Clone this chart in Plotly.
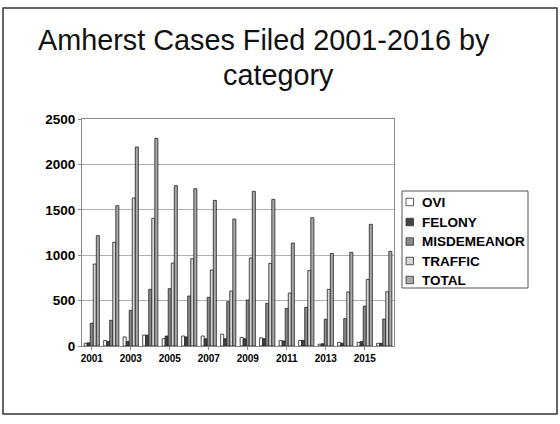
import plotly.graph_objects as go

years = [str(y) for y in range(2001, 2017)]
ovi = [30, 60, 100, 120, 80, 110, 110, 130, 95, 90, 60, 60, 20, 40, 40, 30]
felony = [35, 50, 50, 120, 110, 100, 80, 80, 80, 80, 55, 60, 25, 30, 50, 30]
misdemeanor = [250, 283, 393, 624, 631, 551, 536, 488, 507, 470, 415, 426, 294, 301, 440, 297]
traffic = [903, 1142, 1630, 1406, 914, 961, 837, 606, 969, 910, 583, 830, 624, 595, 734, 598]
total = [1215, 1545, 2192, 2287, 1766, 1732, 1604, 1398, 1703, 1615, 1134, 1413, 1020, 1031, 1340, 1043]

series_names = ["OVI", "FELONY", "MISDEMEANOR", "TRAFFIC", "TOTAL"]
series_values = [ovi, felony, misdemeanor, traffic, total]
series_colors = ["#ffffff", "#444444", "#8a8a8a", "#d6d6d6", "#a8a8a8"]
tick_years = [str(y) for y in range(2001, 2017, 2)]

# plot area in pixels (page coords)
PL, PR, PT, PB = 82, 394, 119, 346
PW, PH = PR - PL, PB - PT


def px(x):
    return (x - PL) / PW


def py(y):
    return (PB - y) / PH


fig = go.Figure()
for name, vals, col in zip(series_names, series_values, series_colors):
    fig.add_trace(go.Bar(
        x=years, y=vals, name=name, showlegend=False,
        marker=dict(color=col, line=dict(color="#222222", width=0.8)),
    ))

title_font = dict(size=28.8, family="Liberation Sans, Arial, sans-serif", color="#111111")
leg_font = dict(size=13.5, family="Liberation Sans, Arial, sans-serif", color="black")

annotations = [
    dict(text="Amherst Cases Filed 2001-2016 by", xref="paper", yref="paper",
         x=px(264), y=py(40), xanchor="center", yanchor="middle",
         showarrow=False, font=title_font),
    dict(text="category", xref="paper", yref="paper",
         x=px(278), y=py(75), xanchor="center", yanchor="middle",
         showarrow=False, font=title_font),
]
shapes = [
    dict(type="rect", xref="paper", yref="paper",
         x0=px(3), x1=px(557), y0=py(414), y1=py(8),
         line=dict(color="#333333", width=1.5)),
    dict(type="rect", xref="paper", yref="paper",
         x0=px(402), x1=px(528), y0=py(288), y1=py(191),
         line=dict(color="#555555", width=1), fillcolor="white", layer="below"),
]
leg_y = [202, 222, 241.5, 261, 280]
for name, col, yc in zip(series_names, series_colors, leg_y):
    shapes.append(dict(type="rect", xref="paper", yref="paper",
                       x0=px(406), x1=px(413.5), y0=py(yc + 3.75), y1=py(yc - 3.75),
                       line=dict(color="#333333", width=0.8), fillcolor=col))
    annotations.append(dict(text="<b>%s</b>" % name, xref="paper", yref="paper",
                            x=px(420), y=py(yc), xanchor="left", yanchor="middle",
                            showarrow=False, font=leg_font))

fig.update_layout(
    width=560, height=424,
    paper_bgcolor="white", plot_bgcolor="white",
    margin=dict(l=PL, r=560 - PR, t=PT, b=424 - PB, autoexpand=False),
    barmode="group", bargap=0.22, bargroupgap=0,
    font=dict(family="Liberation Sans, Arial, sans-serif", color="black"),
    showlegend=False,
    xaxis=dict(
        type="category", tickmode="array", tickvals=tick_years,
        ticktext=["<b>%s</b>" % t for t in tick_years],
        tickfont=dict(size=10), showline=True, linecolor="#888888",
        mirror=True, ticks="outside", ticklen=3, tickcolor="#888888",
    ),
    yaxis=dict(
        range=[0, 2500], tickvals=[0, 500, 1000, 1500, 2000, 2500],
        ticktext=["<b>%d</b>" % v for v in [0, 500, 1000, 1500, 2000, 2500]],
        tickfont=dict(size=13.5), showgrid=True, gridcolor="#b0b0b0",
        showline=True, linecolor="#888888", mirror=True,
        ticks="outside", ticklen=3, tickcolor="#888888",
    ),
    annotations=annotations,
    shapes=shapes,
)

fig.write_html("out.html", config={"displayModeBar": False},
               post_script="document.body.style.margin='0';")
